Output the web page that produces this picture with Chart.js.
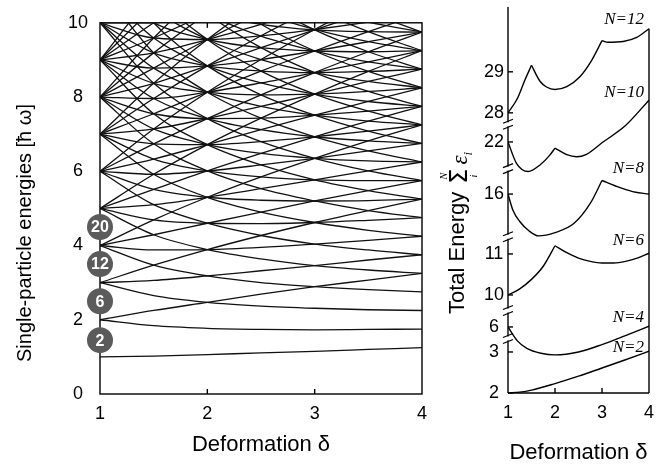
<!DOCTYPE html>
<html>
<head>
<meta charset="utf-8">
<script src="https://cdn.jsdelivr.net/npm/chart.js@4.4.1/dist/chart.umd.min.js"></script>
<style>
  body { margin: 0; background: #fff; }
  #wrap { position: relative; width: 670px; height: 468px; overflow: hidden; }
  #left { position: absolute; left: 0; top: 0; }
  #right { position: absolute; left: 430px; top: 0; }
</style>
</head>
<body>
<div id="wrap">
  <canvas id="left" width="440" height="468" style="width:440px;height:468px"></canvas>
  <canvas id="right" width="240" height="468" style="width:240px;height:468px"></canvas>
</div>
<script>
const deformation = [1, 1.5, 2, 2.5, 3, 3.5, 4];

// levels grouped by their quantum number along the stretched axis (nx = 0, 1, ...)
const levelsNx0 = [
  [1, 1.02, 1.06, 1.11, 1.15, 1.20, 1.25],
  [2, 1.84, 1.77, 1.74, 1.73, 1.74, 1.75],
  [3, 2.65, 2.47, 2.37, 2.31, 2.27, 2.25],
  [4, 3.47, 3.18, 3.00, 2.89, 2.81, 2.75],
  [5, 4.29, 3.89, 3.64, 3.46, 3.34, 3.25],
  [6, 5.10, 4.60, 4.27, 4.04, 3.88, 3.75],
  [7, 5.92, 5.30, 4.90, 4.62, 4.41, 4.25],
  [8, 6.74, 6.01, 5.53, 5.20, 4.94, 4.75],
  [9, 7.55, 6.72, 6.17, 5.77, 5.48, 5.25],
  [10, 8.37, 7.42, 6.80, 6.35, 6.01, 5.75],
  [11, 9.19, 8.13, 7.43, 6.93, 6.55, 6.25],
  [12, 10.00, 8.84, 8.06, 7.51, 7.08, 6.75],
  [13, 10.82, 9.55, 8.70, 8.08, 7.62, 7.25],
  [14, 11.64, 10.25, 9.33, 8.66, 8.15, 7.75],
  [15, 12.45, 10.96, 9.96, 9.24, 8.69, 8.25],
  [16, 13.27, 11.67, 10.59, 9.81, 9.22, 8.75],
  [17, 14.08, 12.37, 11.23, 10.39, 9.76, 9.25],
  [18, 14.90, 13.08, 11.86, 10.97, 10.29, 9.75]
];
const levelsNx1 = [
  [2, 2.25, 2.47, 2.69, 2.89, 3.07, 3.25],
  [3, 3.06, 3.18, 3.32, 3.46, 3.61, 3.75],
  [4, 3.88, 3.89, 3.95, 4.04, 4.14, 4.25],
  [5, 4.69, 4.60, 4.59, 4.62, 4.68, 4.75],
  [6, 5.51, 5.30, 5.22, 5.20, 5.21, 5.25],
  [7, 6.33, 6.01, 5.85, 5.77, 5.75, 5.75],
  [8, 7.14, 6.72, 6.48, 6.35, 6.28, 6.25],
  [9, 7.96, 7.42, 7.12, 6.93, 6.82, 6.75],
  [10, 8.78, 8.13, 7.75, 7.51, 7.35, 7.25],
  [11, 9.59, 8.84, 8.38, 8.08, 7.88, 7.75],
  [12, 10.41, 9.55, 9.01, 8.66, 8.42, 8.25],
  [13, 11.23, 10.25, 9.64, 9.24, 8.95, 8.75],
  [14, 12.04, 10.96, 10.28, 9.82, 9.49, 9.25],
  [15, 12.86, 11.67, 10.91, 10.39, 10.02, 9.75]
];
const levelsNx2 = [
  [3, 3.47, 3.89, 4.27, 4.62, 4.94, 5.25],
  [4, 4.29, 4.60, 4.90, 5.20, 5.48, 5.75],
  [5, 5.10, 5.30, 5.53, 5.77, 6.01, 6.25],
  [6, 5.92, 6.01, 6.17, 6.35, 6.55, 6.75],
  [7, 6.74, 6.72, 6.80, 6.93, 7.08, 7.25],
  [8, 7.55, 7.42, 7.43, 7.51, 7.62, 7.75],
  [9, 8.37, 8.13, 8.06, 8.08, 8.15, 8.25],
  [10, 9.19, 8.84, 8.70, 8.66, 8.69, 8.75],
  [11, 10.00, 9.55, 9.33, 9.24, 9.22, 9.25],
  [12, 10.82, 10.25, 9.96, 9.81, 9.76, 9.75]
];
const levelsNx3 = [
  [4, 4.69, 5.30, 5.85, 6.35, 6.82, 7.25],
  [5, 5.51, 6.01, 6.48, 6.93, 7.35, 7.75],
  [6, 6.33, 6.72, 7.12, 7.51, 7.88, 8.25],
  [7, 7.14, 7.42, 7.75, 8.08, 8.42, 8.75],
  [8, 7.96, 8.13, 8.38, 8.66, 8.95, 9.25],
  [9, 8.78, 8.84, 9.01, 9.24, 9.49, 9.75],
  [10, 9.59, 9.55, 9.65, 9.82, 10.02, 10.25]
];
const levelsNx4 = [
  [5, 5.92, 6.72, 7.43, 8.08, 8.69, 9.25],
  [6, 6.74, 7.42, 8.06, 8.66, 9.22, 9.75],
  [7, 7.55, 8.13, 8.70, 9.24, 9.76, 10.25],
  [8, 8.37, 8.84, 9.33, 9.81, 10.29, 10.75],
  [9, 9.19, 9.55, 9.96, 10.39, 10.82, 11.25],
  [10, 10.00, 10.25, 10.59, 10.97, 11.36, 11.75]
];
const levelsNx5 = [
  [6, 7.14, 8.13, 9.01, 9.82, 10.56, 11.25],
  [7, 7.96, 8.84, 9.65, 10.39, 11.09, 11.75],
  [8, 8.78, 9.55, 10.28, 10.97, 11.63, 12.25],
  [9, 9.59, 10.25, 10.91, 11.55, 12.16, 12.75]
];
const levelsNx6 = [
  [7, 8.37, 9.55, 10.59, 11.55, 12.43, 13.25],
  [8, 9.19, 10.25, 11.23, 12.12, 12.96, 13.75],
  [9, 10.00, 10.96, 11.86, 12.70, 13.50, 14.25]
];
const levelsNx7 = [
  [8, 9.59, 10.96, 12.17, 13.28, 14.30, 15.25],
  [9, 10.41, 11.67, 12.81, 13.86, 14.83, 15.75]
];
const levelsNx8 = [
  [9, 10.82, 12.37, 13.76, 15.01, 16.17, 17.25]
];

// shell closures marked on the left axis
const magicNumbers = ['2', '6', '12', '20'];
const magicEnergies = [1.45, 2.5, 3.5, 4.5];

// ---- right panel: total energy for each particle number ----
const fillings = ['N=2', 'N=4', 'N=6', 'N=8', 'N=10', 'N=12'];

const n2Delta = [1, 1.25, 1.5, 2, 2.5, 3, 3.5, 4];
const n2Energy = [2.0, 2.02, 2.07, 2.23, 2.41, 2.61, 2.81, 3.02];
const n4Delta = [1, 1.2, 1.4, 1.7, 2, 2.5, 3, 3.5, 4];
const n4Energy = [6.0, 5.66, 5.48, 5.36, 5.32, 5.39, 5.57, 5.79, 6.02];
const n6Delta = [1, 1.25, 1.5, 1.75, 2, 2.25, 2.5, 2.75, 3, 3.25, 3.5, 3.75, 4];
const n6Energy = [10.0, 10.15, 10.38, 10.7, 11.2, 11.03, 10.9, 10.82, 10.78, 10.78, 10.82, 10.9, 11.02];
const n8Delta = [1, 1.1, 1.25, 1.45, 1.65, 2, 2.4, 2.75, 3, 3.3, 3.65, 4];
const n8Energy = [16.0, 15.62, 15.33, 15.1, 14.98, 15.06, 15.28, 15.77, 16.33, 16.19, 16.06, 16.0];
const n10Delta = [1, 1.18, 1.43, 1.68, 1.89, 2, 2.25, 2.46, 2.67, 3, 3.5, 4];
const n10Energy = [22.0, 21.48, 21.28, 21.44, 21.68, 21.85, 21.69, 21.64, 21.7, 21.98, 22.4, 23.02];
const n12Delta = [1, 1.2, 1.36, 1.5, 1.68, 1.82, 2, 2.25, 2.53, 2.78, 3, 3.13, 3.45, 3.74, 4];
const n12Energy = [28.0, 28.35, 28.8, 29.16, 28.77, 28.63, 28.57, 28.64, 28.88, 29.28, 29.76, 29.72, 29.74, 29.84, 30.05];

// deformations where a curve has a sharp corner (shell crossing)
const n2Kinks = [], n4Kinks = [], n6Kinks = [2], n8Kinks = [3], n10Kinks = [2], n12Kinks = [1.5, 3];

// tick labels printed on the broken energy axis, one list per curve
const energyTicks = [[2, 3], [6], [10, 11], [16], [22], [28, 29]];

// ---- styling / layout ----
const sansFont = '"Liberation Sans", Arial, Helvetica, sans-serif';
Chart.defaults.font.family = sansFont;
Chart.defaults.color = '#000';
const tickFont = { size: 18 };
const xTitleFont = { size: 22 };

// broken axis: each curve gets its own hidden y scale with the same units per pixel
const axisFloor = [2.0, 4.39, 7.61, 11.15, 15.88, 21.17];
const axisSpan = 9.41;
const breakValues = [3.33, 6.4, 11.42, 16.62, 22.43];
const labelLift = [4, 9, 13, 26, 8, 9];

function seg(ctx, x1, y1, x2, y2) {
  ctx.beginPath();
  ctx.moveTo(x1, y1);
  ctx.lineTo(x2, y2);
  ctx.stroke();
}

// ---------- left chart ----------
const allLevels = [].concat(levelsNx0, levelsNx1, levelsNx2, levelsNx3, levelsNx4,
  levelsNx5, levelsNx6, levelsNx7, levelsNx8);

const levelSets = allLevels.map(row => ({
  data: row.map((e, i) => ({ x: deformation[i], y: e })),
  borderColor: '#111',
  borderWidth: 1.3,
  pointRadius: 0,
  fill: false,
  cubicInterpolationMode: 'monotone',
  capBezierPoints: false,
  order: 1
}));

const magicSet = {
  data: magicEnergies.map(e => ({ x: 1, y: e })),
  showLine: false,
  pointRadius: 13,
  pointBackgroundColor: '#5b5b5b',
  pointBorderWidth: 0,
  clip: false,
  order: 0
};

const leftFrame = {
  id: 'leftFrame',
  beforeDatasetsDraw(chart) {
    const { ctx, chartArea: a, scales } = chart;
    ctx.save();
    ctx.strokeStyle = '#000';
    ctx.lineWidth = 1.4;
    ctx.strokeRect(a.left, a.top, a.right - a.left, a.bottom - a.top);
    [2, 3].forEach(v => {
      const px = scales.x.getPixelForValue(v);
      seg(ctx, px, a.bottom, px, a.bottom - 5);
      seg(ctx, px, a.top, px, a.top + 5);
    });
    // y title, drawn upward from just below the "2" circle
    ctx.fillStyle = '#000';
    ctx.translate(31, 362);
    ctx.rotate(-Math.PI / 2);
    ctx.textAlign = 'left';
    ctx.textBaseline = 'alphabetic';
    ctx.font = '20px ' + sansFont;
    ctx.fillText('Single-particle energies [ħ ω]', 0, 0);
    ctx.restore();
  },
  afterDatasetsDraw(chart) {
    const ctx = chart.ctx;
    const meta = chart.getDatasetMeta(chart.data.datasets.length - 1);
    ctx.save();
    ctx.fillStyle = '#fff';
    ctx.font = 'bold 16px ' + sansFont;
    ctx.textAlign = 'center';
    ctx.textBaseline = 'middle';
    meta.data.forEach((pt, i) => ctx.fillText(magicNumbers[i], pt.x, pt.y + 1));
    ctx.restore();
  }
};

new Chart(document.getElementById('left'), {
  type: 'line',
  data: { datasets: levelSets.concat([magicSet]) },
  options: {
    responsive: false,
    animation: false,
    events: [],
    layout: { padding: { left: 0, right: 18, top: 12, bottom: 0 } },
    plugins: { legend: { display: false }, tooltip: { enabled: false } },
    scales: {
      x: {
        type: 'linear', min: 1, max: 4,
        grid: { display: false, drawTicks: false },
        border: { display: false },
        ticks: { stepSize: 1, padding: 9, font: tickFont },
        title: { display: true, text: 'Deformation δ', font: xTitleFont, padding: { top: 10, bottom: 10 } },
        afterFit: s => { s.height = 74; }
      },
      y: {
        type: 'linear', min: 0, max: 10,
        grid: { display: false, drawTicks: false },
        border: { display: false },
        ticks: { stepSize: 2, padding: 12, crossAlign: 'center', font: tickFont },
        afterFit: s => { s.width = 100; }
      }
    }
  },
  plugins: [leftFrame]
});

// ---------- right chart ----------
const totals = [
  [n2Delta, n2Energy, n2Kinks],
  [n4Delta, n4Energy, n4Kinks],
  [n6Delta, n6Energy, n6Kinks],
  [n8Delta, n8Energy, n8Kinks],
  [n10Delta, n10Energy, n10Kinks],
  [n12Delta, n12Energy, n12Kinks]
];

// split a curve at its kinks so the corners stay sharp
function splitAtKinks(delta, energy, kinks) {
  const pieces = [];
  let cur = [];
  delta.forEach((d, i) => {
    cur.push({ x: d, y: energy[i] });
    if (kinks.includes(d)) {
      pieces.push(cur);
      cur = [{ x: d, y: energy[i] }];
    }
  });
  pieces.push(cur);
  return pieces;
}

const totalSets = [];
totals.forEach(([delta, energy, kinks], i) => {
  splitAtKinks(delta, energy, kinks).forEach(piece => {
    totalSets.push({
      data: piece,
      yAxisID: 'y' + i,
      borderColor: '#000',
      borderWidth: 1.4,
      pointRadius: 0,
      fill: false,
      cubicInterpolationMode: 'monotone',
      capBezierPoints: false
    });
  });
});

const rightScales = {
  x: {
    type: 'linear', min: 1, max: 4,
    grid: { display: false, drawTicks: false },
    border: { display: false },
    ticks: { stepSize: 1, padding: 9, font: tickFont },
    title: { display: true, text: 'Deformation δ', font: xTitleFont, padding: { top: 2, bottom: 2 } },
    afterFit: s => { s.height = 75; }
  }
};
axisFloor.forEach((lo, i) => {
  rightScales['y' + i] = { type: 'linear', display: false, min: lo, max: lo + axisSpan };
});

const rightAxis = {
  id: 'rightAxis',
  beforeDatasetsDraw(chart) {
    const { ctx, chartArea: a, scales } = chart;
    ctx.save();
    ctx.strokeStyle = '#000';
    ctx.lineWidth = 1.4;
    const rightTop = scales.y5.getPixelForValue(n12Energy[n12Energy.length - 1]);
    seg(ctx, a.left, a.top, a.left, a.bottom);
    seg(ctx, a.left, a.bottom, a.right, a.bottom);
    seg(ctx, a.right, rightTop, a.right, a.bottom);
    [2, 3].forEach(v => {
      const px = scales.x.getPixelForValue(v);
      seg(ctx, px, a.bottom, px, a.bottom - 5);
    });

    ctx.fillStyle = '#000';
    ctx.font = '18px ' + sansFont;
    ctx.textAlign = 'center';
    ctx.textBaseline = 'middle';
    energyTicks.forEach((list, i) => list.forEach(v => {
      const py = scales['y' + i].getPixelForValue(v);
      seg(ctx, a.left, py, a.left + 5, py);
      ctx.fillText(String(v), a.left - 14, py);
    }));

    // axis breaks
    ctx.lineWidth = 1.2;
    breakValues.forEach((v, i) => {
      const py = scales['y' + i].getPixelForValue(v);
      ctx.fillStyle = '#fff';
      ctx.fillRect(a.left - 2, py - 2, 4, 4);
      seg(ctx, a.left - 5, py - 1, a.left + 5, py - 5);
      seg(ctx, a.left - 5, py + 5, a.left + 5, py + 1);
    });

    // y title: Total Energy  Σ ε_i
    ctx.fillStyle = '#000';
    ctx.translate(34, 314);
    ctx.rotate(-Math.PI / 2);
    ctx.textAlign = 'left';
    ctx.textBaseline = 'alphabetic';
    ctx.font = '22px ' + sansFont;
    ctx.fillText('Total Energy', 0, 0);
    let u = ctx.measureText('Total Energy').width + 8;
    ctx.font = '24px "DejaVu Sans", sans-serif';
    ctx.fillText('Σ', u, 3);
    const sw = ctx.measureText('Σ').width;
    ctx.font = 'italic 10px "Liberation Serif", serif';
    ctx.textAlign = 'center';
    ctx.fillText('N', u + sw / 2, -17);
    ctx.fillText('i', u + sw / 2, 13);
    ctx.textAlign = 'left';
    u += sw + 4;
    ctx.font = 'italic 23px "Liberation Serif", serif';
    ctx.fillText('ε', u, 3);
    u += ctx.measureText('ε').width;
    ctx.font = 'italic 13px "Liberation Serif", serif';
    ctx.fillText('i', u, 8);
    ctx.restore();
  },
  afterDatasetsDraw(chart) {
    const { ctx, chartArea: a, scales } = chart;
    ctx.save();
    ctx.fillStyle = '#000';
    ctx.font = 'italic 17px "Liberation Serif", "Times New Roman", serif';
    ctx.textAlign = 'right';
    ctx.textBaseline = 'middle';
    totals.forEach(([, energy], i) => {
      const py = scales['y' + i].getPixelForValue(energy[energy.length - 1]);
      ctx.fillText(fillings[i], a.right - 5, py - labelLift[i]);
    });
    ctx.restore();
  }
};

new Chart(document.getElementById('right'), {
  type: 'line',
  data: { datasets: totalSets },
  options: {
    responsive: false,
    animation: false,
    events: [],
    layout: { padding: { left: 78, right: 21, top: 7, bottom: 0 } },
    plugins: { legend: { display: false }, tooltip: { enabled: false } },
    scales: rightScales
  },
  plugins: [rightAxis]
});
</script>
</body>
</html>
